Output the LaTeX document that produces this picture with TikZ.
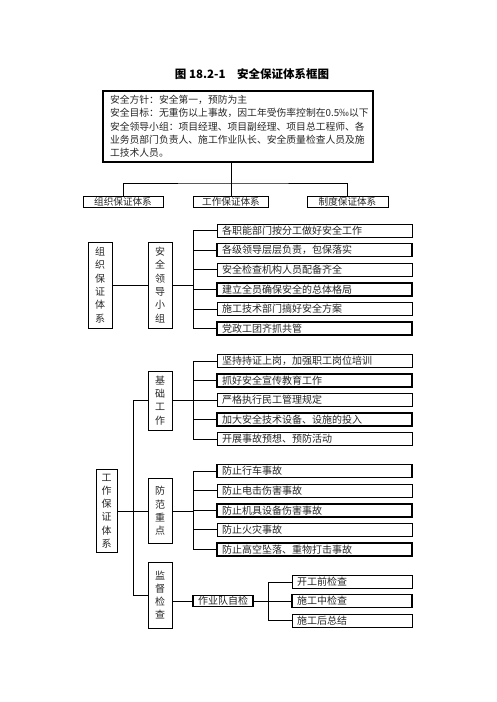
\documentclass[tikz,border=0pt]{standalone}
\usepackage{fontspec}
\setmainfont{Noto Sans CJK SC}
\usepackage{tikz}

\begin{document}
\begin{tikzpicture}[x=1pt,y=-1pt,
  box/.style={draw,line width=0.8pt,inner sep=0pt,text=black!85,font=\fontsize{10}{13.3}\selectfont},
  heavy/.style={line width=1.7pt},
  vbox/.style={box,minimum width=24pt,text width=10pt,align=center},
  itembox/.style={box,minimum height=13pt,inner xsep=5pt,text width=185pt,align=left},
  chkbox/.style={box,minimum height=13pt,inner xsep=5pt,text width=110pt,align=left},
  sysbox/.style={box,line width=1pt,minimum height=11pt,font=\fontsize{9.6}{11}\selectfont},
  link/.style={line width=0.8pt}]
\useasboundingbox (0,0) rectangle (496,702);

% title and aims
\node[font=\bfseries\fontsize{11.5}{14}\selectfont] (ttl) at (252,74) {图 18.2-1\quad 安全保证体系框图};
\node[box,line width=1.6pt,minimum width=270pt,minimum height=71pt,inner xsep=7pt,
  text width=256pt,align=left,font=\fontsize{9.8}{13.3}\selectfont] (aim) at (238,126.5)
  {安全方针：安全第一，预防为主\\
   安全目标：无重伤以上事故，因工年受伤率控制在0.5‰以下\\
   安全领导小组：项目经理、项目副经理、项目总工程师、各\\
   业务员部门负责人、施工作业队长、安全质量检查人员及施\\
   工技术人员。};

\node[sysbox,minimum width=80pt] (sys1) at (123,202) {组织保证体系};
\node[sysbox,minimum width=75pt] (sys2) at (231,202) {工作保证体系};
\node[sysbox,minimum width=81pt] (sys3) at (347.5,202) {制度保证体系};
\coordinate (tb) at (231,183);
\draw[link] (aim.south -| sys2.north) -- (sys2.north);
\draw[link] (sys1.north) |- (tb) -| (sys3.north);

% organisation
\node[vbox,minimum height=86pt] (org) at (100,285) {组\\织\\保\\证\\体\\系};
\node[vbox,minimum height=86pt] (lead) at (160,285) {安\\全\\领\\导\\小\\组};
\coordinate (lbus) at (193,285);
\node[itembox] (l1) at (314.5,230.5) {各职能部门按分工做好安全工作};
\node[itembox,heavy] (l2) at (314.5,250.1) {各级领导层层负责，包保落实};
\node[itembox] (l3) at (314.5,269.7) {安全检查机构人员配备齐全};
\node[itembox,heavy] (l4) at (314.5,289.3) {建立全员确保安全的总体格局};
\node[itembox] (l5) at (314.5,308.9) {施工技术部门搞好安全方案};
\node[itembox,heavy] (l6) at (314.5,328.5) {党政工团齐抓共管};
\draw[link] (org) -- (lead);
\draw[link] (lead) -- (lbus);
\foreach \i in {1,...,6} \draw[link] (l\i.west) -| (lbus);

% work
\node[vbox,minimum width=21pt,minimum height=83pt] (work) at (106.5,511) {工\\作\\保\\证\\体\\系};
\node[vbox,minimum height=59pt] (base) at (160,400.5) {基\\础\\工\\作};
\node[vbox,minimum height=65pt] (keyp) at (160,511) {防\\范\\重\\点};
\node[vbox,minimum height=66pt] (insp) at (160,595) {监\\督\\检\\查};
\coordinate (wbus) at (133,511);
\draw[link] (work) -- (keyp);
\draw[link] (base.west) -| (wbus);
\draw[link] (insp.west) -| (wbus);

\coordinate (bbus) at (193,400.5);
\node[itembox] (b1) at (314.5,361) {坚持持证上岗，加强职工岗位培训};
\node[itembox,heavy] (b2) at (314.5,380.5) {抓好安全宣传教育工作};
\node[itembox] (b3) at (314.5,400) {严格执行民工管理规定};
\node[itembox,heavy] (b4) at (314.5,419.5) {加大安全技术设备、设施的投入};
\node[itembox] (b5) at (314.5,439) {开展事故预想、预防活动};
\draw[link] (base) -- (bbus);
\foreach \i in {1,...,5} \draw[link] (b\i.west) -| (bbus);

\coordinate (kbus) at (193,511);
\node[itembox,heavy] (k1) at (314.5,471) {防止行车事故};
\node[itembox] (k2) at (314.5,490.6) {防止电击伤害事故};
\node[itembox,heavy] (k3) at (314.5,510.2) {防止机具设备伤害事故};
\node[itembox] (k4) at (314.5,529.8) {防止火灾事故};
\node[itembox,heavy] (k5) at (314.5,549.4) {防止高空坠落、重物打击事故};
\draw[link] (keyp) -- (kbus);
\foreach \i in {1,...,5} \draw[link] (k\i.west) -| (kbus);

\node[box,heavy,minimum width=60pt,minimum height=11pt] (team) at (223,601) {作业队自检};
\draw[link] (insp.east |- team.west) -- (team.west);
\coordinate (cbus) at (268,601);
\node[chkbox] (c1) at (352,582) {开工前检查};
\node[chkbox,heavy] (c2) at (352,601) {施工中检查};
\node[chkbox] (c3) at (352,620.5) {施工后总结};
\draw[link] (team) -- (cbus);
\foreach \i in {1,...,3} \draw[link] (c\i.west) -| (cbus);
\end{tikzpicture}
\end{document}
